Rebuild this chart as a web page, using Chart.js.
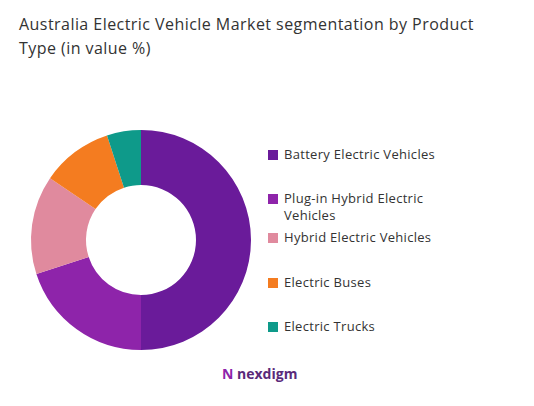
<!DOCTYPE html>
<html>
<head>
<meta charset="utf-8">
<script src="https://cdn.jsdelivr.net/npm/chart.js@4"></script>
<style>
  body { margin: 0; width: 534px; height: 406px; background: #fff; font-family: "Open Sans", sans-serif; position: relative; overflow: hidden; }
  #title { position: absolute; left: 19px; top: 12px; width: 495px; font-size: 16px; line-height: 24px; color: #333; letter-spacing: 0.45px; }
  #wrap { position: absolute; left: 21px; top: 120px; width: 240px; height: 240px; }
  #legend { position: absolute; left: 268px; top: 0; font-size: 13px; color: #333; letter-spacing: 0.3px; }
  .item { position: absolute; left: 0; white-space: nowrap; line-height: 17px; }
  .box { display: inline-block; width: 10px; height: 10px; margin-right: 6px; vertical-align: -1px; }
  #logo { position: absolute; left: 222px; top: 364px; font-size: 14px; font-weight: bold; color: #5a2a7a; }
</style>
</head>
<body>
<div id="title">Australia Electric Vehicle Market segmentation by Product Type (in value %)</div>
<div id="wrap"><canvas id="pie"></canvas></div>
<div id="legend"></div>
<div id="logo"><span style="color:#8e24aa">N</span> nexdigm</div>
<script>
const categories = ['Battery Electric Vehicles', 'Plug-in Hybrid Electric Vehicles', 'Hybrid Electric Vehicles', 'Electric Buses', 'Electric Trucks'];
const legendLines = [['Battery Electric Vehicles'], ['Plug-in Hybrid Electric', 'Vehicles'], ['Hybrid Electric Vehicles'], ['Electric Buses'], ['Electric Trucks']];
const shares = [50, 20, 14.5, 10.5, 5];
const colors = ['#6a1b9a', '#8e24aa', '#e08a9e', '#f47c20', '#0e9a8a'];
const legendTops = [146, 190, 229, 274, 318];

new Chart(document.getElementById('pie'), {
    type: 'doughnut',
    data: {
        labels: categories,
        datasets: [{ data: shares, backgroundColor: colors, borderWidth: 0 }]
    },
    options: {
        responsive: true,
        maintainAspectRatio: false,
        animation: false,
        cutout: '50%',
        layout: { padding: 10 },
        plugins: { legend: { display: false }, tooltip: { enabled: false } }
    }
});

// Legend
const legend = document.getElementById('legend');
legendLines.forEach((lines, i) => {
    const div = document.createElement('div');
    div.className = 'item';
    div.style.top = legendTops[i] + 'px';
    div.innerHTML = '<span class="box" style="background:' + colors[i] + '"></span>' + lines[0] +
        (lines[1] ? '<br><span style="margin-left:16px">' + lines[1] + '</span>' : '');
    legend.appendChild(div);
});
</script>
</body>
</html>
